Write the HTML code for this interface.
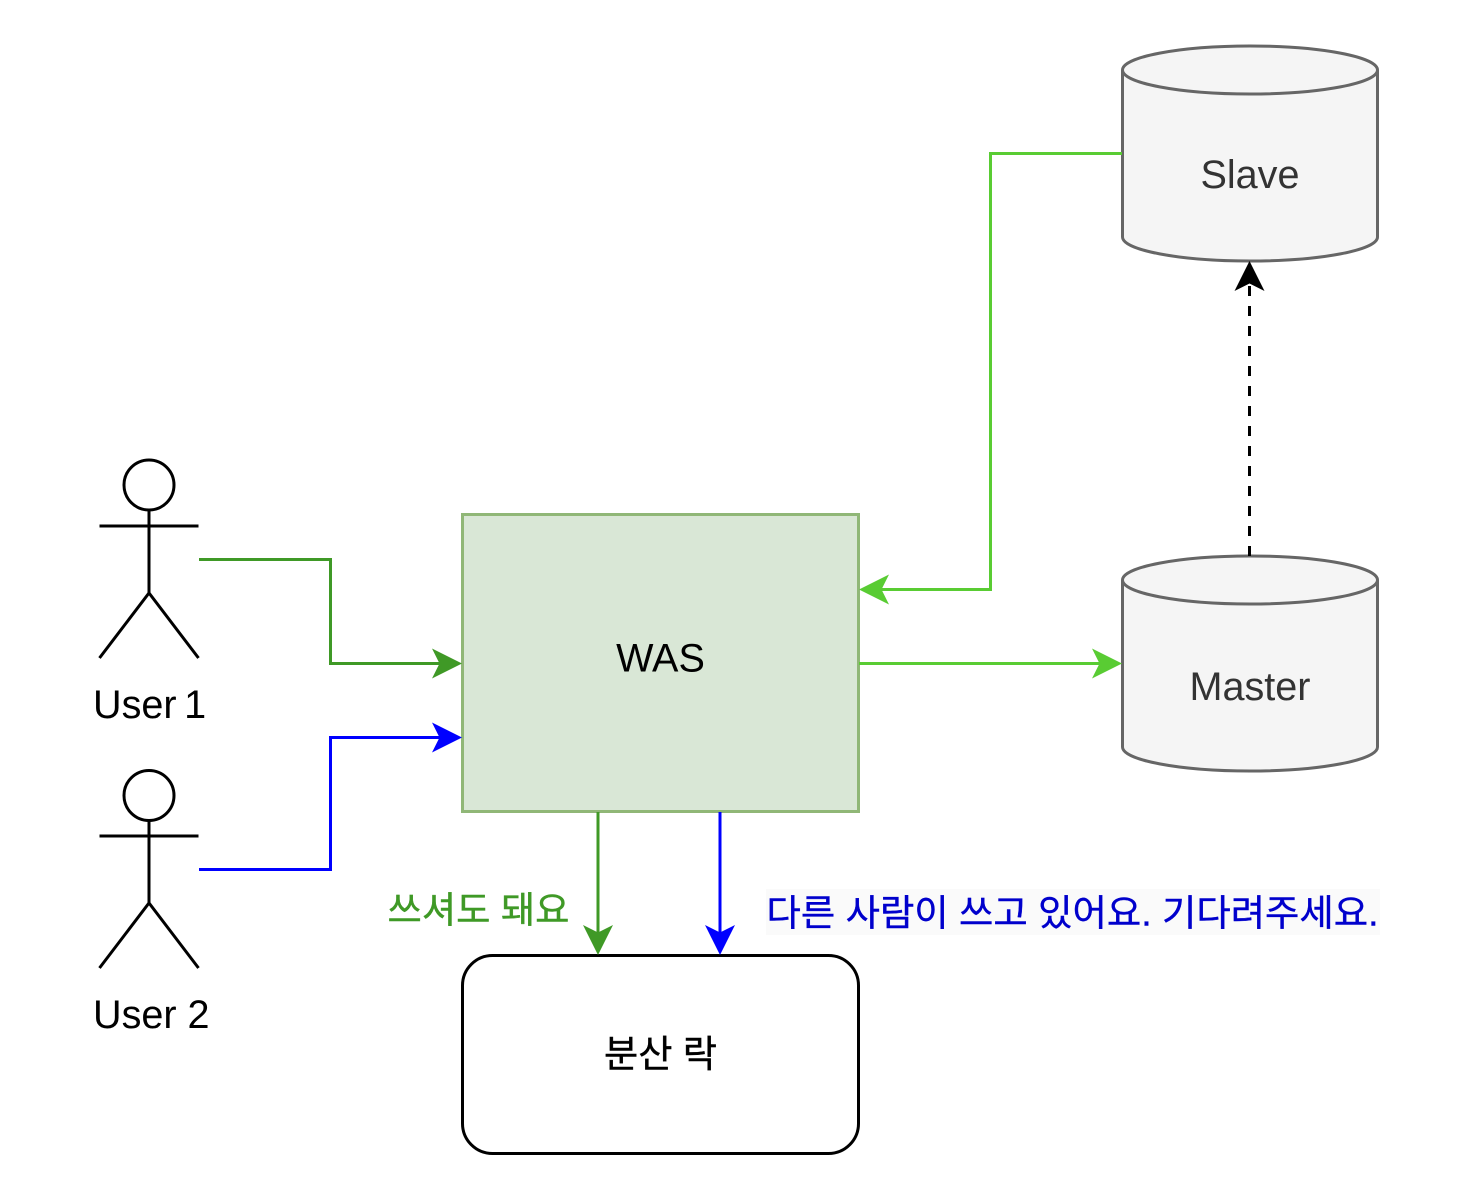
<!DOCTYPE html>
<html lang="ko">
<head>
<meta charset="utf-8">
<style>
html,body{margin:0;padding:0;background:#fff;width:1478px;height:1184px;overflow:hidden}
svg{display:block}
text{font-family:"Liberation Sans","Noto Sans CJK KR",sans-serif;font-size:39.6px}
</style>
</head>
<body>
<svg width="1478" height="1184" viewBox="0 0 1478 1184" xmlns="http://www.w3.org/2000/svg">
<rect x="0" y="0" width="1478" height="1184" fill="#fff"/>

<!-- WAS -->
<rect x="462.5" y="514.5" width="396" height="297" fill="#d9e7d6" stroke="#90b777" stroke-width="3"/>
<text x="660.5" y="671.5" text-anchor="middle" fill="#000">WAS</text>

<!-- Lock box -->
<rect x="462.5" y="955.5" width="396" height="198" rx="30" ry="30" fill="#fff" stroke="#000" stroke-width="3"/>
<text x="604" y="1067" fill="#000" stroke="#000" stroke-width="0.4" style="font-size:37.5px" textLength="113" lengthAdjust="spacingAndGlyphs">분산 락</text>

<!-- Slave -->
<path d="M1122.5 70 C1122.5 57,1179 46,1250 46 C1321 46,1377.5 57,1377.5 70 L1377.5 237 C1377.5 250,1321 261,1250 261 C1179 261,1122.5 250,1122.5 237 Z" fill="#f5f5f5" stroke="#666" stroke-width="3"/>
<path d="M1122.5 70 C1122.5 83,1179 94,1250 94 C1321 94,1377.5 83,1377.5 70" fill="none" stroke="#666" stroke-width="3"/>
<text x="1250" y="188" text-anchor="middle" fill="#333">Slave</text>

<!-- Master -->
<path d="M1122.5 580 C1122.5 567,1179 556,1250 556 C1321 556,1377.5 567,1377.5 580 L1377.5 747 C1377.5 760,1321 771,1250 771 C1179 771,1122.5 760,1122.5 747 Z" fill="#f5f5f5" stroke="#666" stroke-width="3"/>
<path d="M1122.5 580 C1122.5 593,1179 604,1250 604 C1321 604,1377.5 593,1377.5 580" fill="none" stroke="#666" stroke-width="3"/>
<text x="1250" y="700" text-anchor="middle" fill="#333">Master</text>

<!-- User 1 -->
<g fill="none" stroke="#000" stroke-width="3">
<circle cx="149" cy="485" r="25"/>
<path d="M149 510 V593 M99.5 526 H198.5 M99.5 658 L149 593 L198.5 658"/>
</g>
<text x="93" y="718" fill="#000">User <tspan dx="-3.5">1</tspan></text>

<!-- User 2 -->
<g fill="none" stroke="#000" stroke-width="3">
<circle cx="149" cy="795.5" r="25"/>
<path d="M149 820 V903 M99.5 836 H198.5 M99.5 968 L149 903 L198.5 968"/>
</g>
<text x="93" y="1028" fill="#000">User 2</text>

<!-- Connectors -->
<path d="M199 559.5 H330.5 V663.5 H440" fill="none" stroke="#3f9926" stroke-width="3"/>
<path d="M462 663.5 L432 648.5 L439.5 663.5 L432 678.5 Z" fill="#3f9926"/>

<path d="M199 869.5 H330.5 V737.5 H440" fill="none" stroke="#0000ff" stroke-width="3"/>
<path d="M462 737.5 L432 722.5 L439.5 737.5 L432 752.5 Z" fill="#0000ff"/>

<path d="M598 812 V933" fill="none" stroke="#3f9926" stroke-width="3"/>
<path d="M598 955 L583 925 L598 932.5 L613 925 Z" fill="#3f9926"/>

<path d="M720 812 V933" fill="none" stroke="#0000ff" stroke-width="3"/>
<path d="M720 955 L705 925 L720 932.5 L735 925 Z" fill="#0000ff"/>

<path d="M859 663.5 H1100" fill="none" stroke="#59cc33" stroke-width="3"/>
<path d="M1122 663.5 L1092 648.5 L1099.5 663.5 L1092 678.5 Z" fill="#59cc33"/>

<path d="M1122 153.5 H990.5 V589.5 H881" fill="none" stroke="#59cc33" stroke-width="3"/>
<path d="M859 589.5 L889 574.5 L881.5 589.5 L889 604.5 Z" fill="#59cc33"/>

<path d="M1249.5 556 V283" fill="none" stroke="#000" stroke-width="3" stroke-dasharray="10 10"/>
<path d="M1249.5 261 L1234.5 291 L1249.5 283.5 L1264.5 291 Z" fill="#000"/>

<!-- Labels -->
<text x="387.5" y="922.5" fill="#3f9926" stroke="#3f9926" stroke-width="0.4" style="font-size:36.5px" textLength="182" lengthAdjust="spacingAndGlyphs">쓰셔도 돼요</text>
<rect x="766" y="889" width="614" height="46" fill="#fafafa"/>
<text x="766.5" y="925.5" fill="#0000cc" stroke="#0000cc" stroke-width="0.4" style="font-size:36.5px" textLength="612" lengthAdjust="spacingAndGlyphs">다른 사람이 쓰고 있어요. 기다려주세요.</text>
</svg>
</body>
</html>
